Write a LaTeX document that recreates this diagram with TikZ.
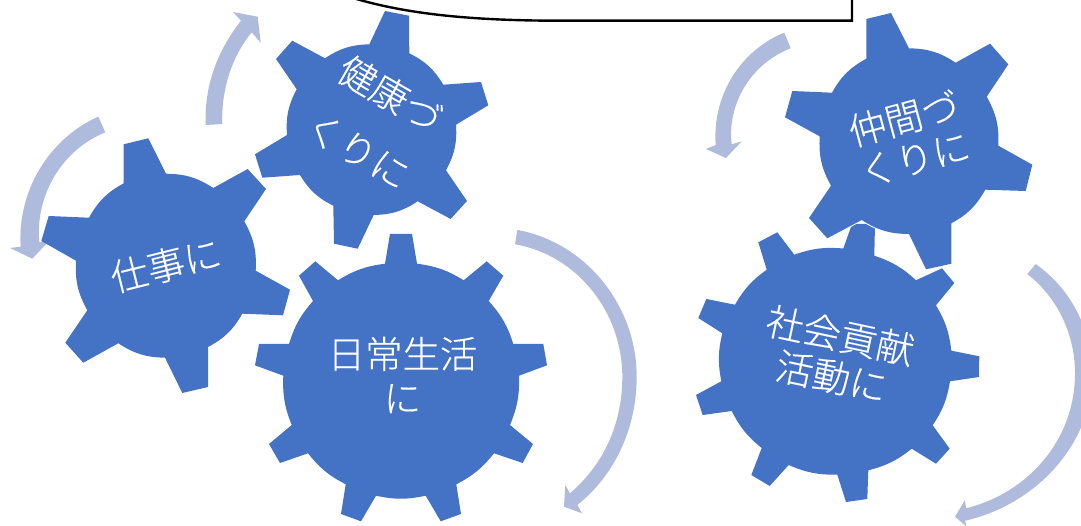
\documentclass[tikz,border=0pt]{standalone}
\usepackage{fontspec}
\newfontfamily\jpfont[FakeBold=0.35]{Noto Sans CJK JP Light}
\definecolor{gearblue}{HTML}{4472C4}
\definecolor{arrowblue}{HTML}{AFBBDD}
\tikzset{
  gearbody/.style={fill=gearblue},
  gearhalo/.style={draw=white,line width=2pt,line join=round},
  bandarrow/.style={fill=arrowblue},
  gapsix/.style={bend left=16},
  gapnine/.style={bend left=12},
  gearlabel/.style={text=white,align=center,inner sep=0pt,font=\jpfont\fontsize{37.5}{#1}\selectfont},
  frameline/.style={draw=black,line width=2.4pt,line join=miter}
}
\newcommand{\nakamaGear}[1]{%
\path[#1]
 (866.3,58.7)--(866.3,19)--(891,13)--(909,48.3) to[gapsix]
 (955.7,62.7)--(990,43.7)--(1008.3,64.3)--(986.7,96.7) to[gapsix]
 (998.3,145.7)--(1032.3,164.7)--(1025.7,191)--(985.3,189.7) to[gapsix]
 (951.3,223.3)--(951.3,263.7)--(926,269.3)--(909,234) to[gapsix]
 (861.7,220)--(827.3,238.3)--(809,218)--(831,185.7) to[gapsix]
 (819.7,136.3)--(785,117.3)--(792.3,91)--(832,92.7) to[gapsix] cycle;
}
\begin{document}
\begin{tikzpicture}[x=1pt,y=-1pt]
\useasboundingbox (0,0) rectangle (1081,526);
\clip (0,0) rectangle (1081,526);

% frame at the top
\draw[frameline] (353,-2) .. controls (400,12) and (460,20.7) .. (560,20.7) -- (852,20.7) -- (852,-2);

% arrows
\fill[bandarrow] (205.7,125) .. controls (204,85) and (218,50) .. (241,20.7) -- (233,12) -- (257.7,16.7) -- (260.7,42.7) -- (251.7,32.3) .. controls (233,55) and (221,88) .. (222.3,124) -- cycle;
\fill[bandarrow] (98.3,116.7) .. controls (50,138) and (17,190) .. (20.7,246.7) -- (10,248) -- (32.3,258.7) -- (50,240) -- (39.3,242.3) .. controls (35,195) and (62,150) .. (105.3,132.3) -- cycle;
\fill[bandarrow] (517.3,230) .. controls (585,242) and (636.7,305) .. (636.7,376.7) .. controls (636.7,428) and (615,475) .. (577.3,505) -- (582,513.3) -- (564,506.7) -- (565.3,485) -- (570,493.3) .. controls (603,465) and (622.3,425) .. (622.3,376.7) .. controls (622.3,312) and (577,255) .. (515,244.3) -- cycle;
\fill[bandarrow] (784.3,32.7) .. controls (741,50) and (712,95) .. (715.7,145) -- (706,149) -- (726,158) -- (741.7,141.3) -- (731.7,144.3) .. controls (727,105) and (750,64) .. (790.7,48.3) -- cycle;
\fill[bandarrow] (1035.7,264) .. controls (1072,290) and (1092,330) .. (1092,375) .. controls (1092,445) and (1035,505) .. (965,520.7) -- (966.7,526.7) -- (955,516.7) -- (965,500) -- (966,508.3) .. controls (1028,493) and (1075,440) .. (1075,373.3) .. controls (1075,335) and (1058,298) .. (1027.3,274) -- cycle;

% gear: kenkou
\fill[gearbody] (369.3,44.3)--(385,11)--(409,15.7)--(409.3,53.3) to[gapsix]
 (443.3,84.7)--(481,82)--(488.3,105.3)--(456,124.7) to[gapsix]
 (446,170.3)--(467,201)--(450.7,219)--(417.7,201.3) to[gapsix]
 (373.7,215)--(357.7,248.7)--(334,243.7)--(333.3,205.7) to[gapsix]
 (300,175)--(262.3,177.7)--(255,154.3)--(287,135) to[gapsix]
 (296.7,89.3)--(276,59)--(292.3,40.7)--(325,58.3) to[gapsix] cycle;

% gear: shigoto
\fill[gearbody] (123.7,183.3)--(123.7,144.3)--(148.3,138.3)--(166,173.7) to[gapsix]
 (213.3,188)--(247.7,169)--(266,189)--(244.3,221.3) to[gapsix]
 (255.7,270.7)--(290,289.7)--(283,315.3)--(242.3,313.7) to[gapsix]
 (208,347)--(208,387)--(182.3,393)--(165,357.7) to[gapsix]
 (118.3,343.3)--(83.3,362.7)--(65.3,342.7)--(87.3,310.3) to[gapsix]
 (76,260.7)--(41.3,241)--(48.7,216)--(89,217.7) to[gapsix] cycle;

% gear: nichijou
\fill[gearbody] (385,263.7)--(390,234)--(412,234)--(417,263.7) to[gapnine]
 (463.7,280.3)--(486.7,261.3)--(503.3,275.7)--(488.7,301) to[gapnine]
 (513.3,344)--(543.3,344)--(547,365.3)--(519,375.7) to[gapnine]
 (510,425)--(533,444)--(522.7,463)--(494,453.3) to[gapnine]
 (456.3,484.3)--(461,514)--(440.7,521.3)--(425.7,495.7) to[gapnine]
 (376,495.7)--(361,521.3)--(341,514)--(345.7,484.3) to[gapnine]
 (308,453.3)--(280,463)--(269,444)--(291.7,425) to[gapnine]
 (283.3,375.7)--(255,365.3)--(259,344)--(289,344) to[gapnine]
 (313,301)--(299,275.7)--(315.3,261.3)--(338,280.3) to[gapnine] cycle;

% gear: shakai
\fill[gearbody] (843.3,248.5)--(852,224)--(875,224)--(874.3,255.7) to[gapnine]
 (916,280.3)--(942,268.3)--(954.3,283)--(936,305.3) to[gapnine]
 (951.3,350.7)--(979.3,356.3)--(979,377)--(950,381.3) to[gapnine]
 (932.7,425.3)--(949.7,448.7)--(936,463.7)--(911.7,448.7) to[gapnine]
 (868.3,470.3)--(867.3,499)--(846,502)--(837.3,474.7) to[gapnine]
 (788.7,465)--(769.7,486)--(751.3,475)--(761.7,448) to[gapnine]
 (731.7,411)--(702.7,415)--(696,395)--(721.3,381.3) to[gapnine]
 (722.3,333.3)--(698.3,318)--(706.3,299)--(735,304.7) to[gapnine]
 (766.7,269.7)--(758.3,242.3)--(777.3,232.3)--(794.3,254.7) to[gapnine] cycle;

% gear: nakama, with a thin white edge over its neighbour
\nakamaGear{gearhalo}
\nakamaGear{gearbody}

% labels
\node[gearlabel=65,rotate=-30] (kenkou) at (374.2,121.7) {健康づ\\くりに};
\node[gearlabel=44,rotate=14] (shigoto) at (165.7,265) {仕事に};
\node[gearlabel=44] (nichijou) at (402.5,375) {日常生活\\に};
\node[gearlabel=42,rotate=15] (nakama) at (909,138) {仲間づ\\くりに};
\node[gearlabel=42,rotate=-12] (shakai) at (836,356) {社会貢献\\活動に};
\end{tikzpicture}
\end{document}
